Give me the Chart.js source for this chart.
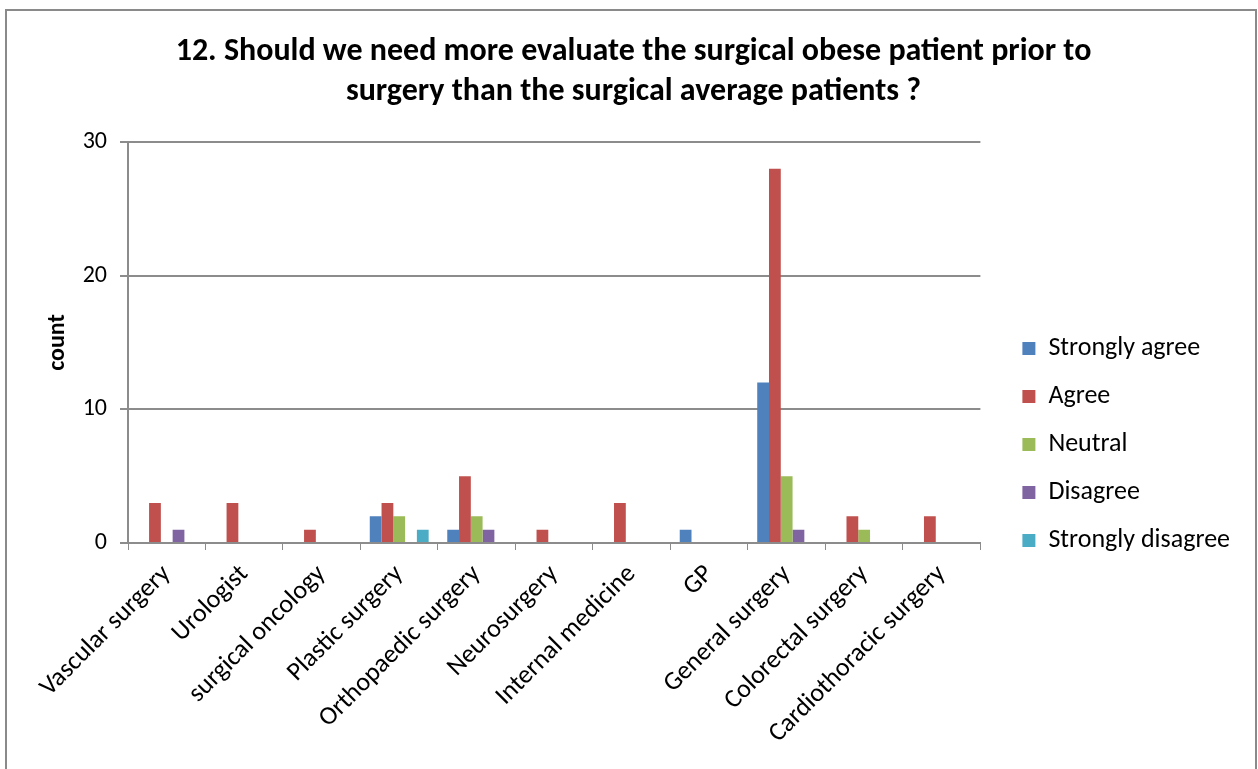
<!DOCTYPE html>
<html>
<head>
<meta charset="utf-8">
<script src="https://cdn.jsdelivr.net/npm/chart.js@4/dist/chart.umd.min.js"></script>
<style>
  html, body { margin: 0; padding: 0; background: #fff; }
  #wrap { position: absolute; left: 0; top: 0; width: 1258px; height: 769px; }
</style>
</head>
<body>
<div id="wrap"><canvas id="c" width="1258" height="769"></canvas></div>
<script>
const categories = ["Vascular surgery", "Urologist", "surgical oncology", "Plastic surgery", "Orthopaedic surgery", "Neurosurgery", "Internal medicine", "GP", "General surgery", "Colorectal surgery", "Cardiothoracic surgery"];
const stronglyAgree    = [0, 0, 0, 2, 1, 0, 0, 1, 12, 0, 0];
const agree            = [3, 3, 1, 3, 5, 1, 3, 0, 28, 2, 2];
const neutral          = [0, 0, 0, 2, 2, 0, 0, 0, 5, 1, 0];
const disagree         = [1, 0, 0, 0, 1, 0, 0, 0, 1, 0, 0];
const stronglyDisagree = [0, 0, 0, 1, 0, 0, 0, 0, 0, 0, 0];
const yTicks = [0, 10, 20, 30];

const FONT = "Carlito, Lato, 'Open Sans', sans-serif";
const GRAY = '#8c8c8c';

const borderPlugin = {
  id: 'outerBorder',
  beforeDraw(chart) {
    const ctx = chart.ctx;
    ctx.save();
    ctx.fillStyle = '#fff';
    ctx.fillRect(0, 0, chart.width, chart.height);
    ctx.strokeStyle = '#8a8a8a';
    ctx.lineWidth = 2;
    ctx.beginPath();
    ctx.moveTo(6, 780);
    ctx.lineTo(6, 10);
    ctx.lineTo(1256, 10);
    ctx.lineTo(1256, 780);
    ctx.stroke();
    ctx.restore();
  }
};

function ds(label, data, color) {
  return { label, data, backgroundColor: color, borderWidth: 0,
           categoryPercentage: 0.76, barPercentage: 1.0 };
}

new Chart(document.getElementById('c'), {
  type: 'bar',
  data: {
    labels: categories,
    datasets: [
      ds('Strongly agree', stronglyAgree, '#4F81BD'),
      ds('Agree', agree, '#C0504D'),
      ds('Neutral', neutral, '#9BBB59'),
      ds('Disagree', disagree, '#8064A2'),
      ds('Strongly disagree', stronglyDisagree, '#4BACC6')
    ]
  },
  options: {
    responsive: false,
    animation: false,
    layout: { padding: { left: 27, right: 18, top: 0, bottom: 0 } },
    plugins: {
      title: {
        display: true,
        text: ['12. Should we need more evaluate the surgical obese patient prior to', 'surgery than the surgical average patients ?'],
        color: '#000',
        font: { family: FONT, size: 32, weight: 'bold', lineHeight: 1.25 },
        padding: { top: 32, bottom: 30 }
      },
      legend: {
        position: 'right',
        maxWidth: 320,
        title: { display: true, text: '', font: { family: FONT, size: 16, lineHeight: 1.25 }, padding: { top: 100, bottom: 0 } },
        labels: {
          color: '#000',
          font: { family: FONT, size: 26 },
          boxWidth: 13, boxHeight: 13,
          padding: 22
        }
      },
      tooltip: { enabled: false }
    },
    scales: {
      x: {
        grid: { display: true, drawOnChartArea: false, drawTicks: true, tickLength: 7, color: GRAY, offset: true },
        border: { display: true, color: GRAY, width: 2 },
        ticks: { color: '#000', font: { family: FONT, size: 26 }, maxRotation: 45, minRotation: 45, autoSkip: false, padding: 9 },
        afterFit(scale) { scale.height = 226; }
      },
      y: {
        min: 0, max: 30,
        afterBuildTicks(scale) { scale.ticks = yTicks.map(v => ({ value: v })); },
        grid: { color: GRAY, lineWidth: 2, drawTicks: true, tickLength: 8 },
        border: { display: true, color: GRAY, width: 2 },
        ticks: { color: '#000', font: { family: FONT, size: 24 }, padding: 13 },
        title: { display: true, text: 'count', color: '#000', font: { family: FONT, size: 24, weight: 'bold' }, padding: { top: 17, bottom: 0 } },
        afterFit(scale) { scale.width = 101; }
      },
      gap: {
        type: 'linear',
        position: 'right',
        display: true,
        grid: { display: false },
        border: { display: false },
        ticks: { display: false },
        afterFit(scale) { scale.width = 20; }
      }
    }
  },
  plugins: [borderPlugin]
});
</script>
</body>
</html>
